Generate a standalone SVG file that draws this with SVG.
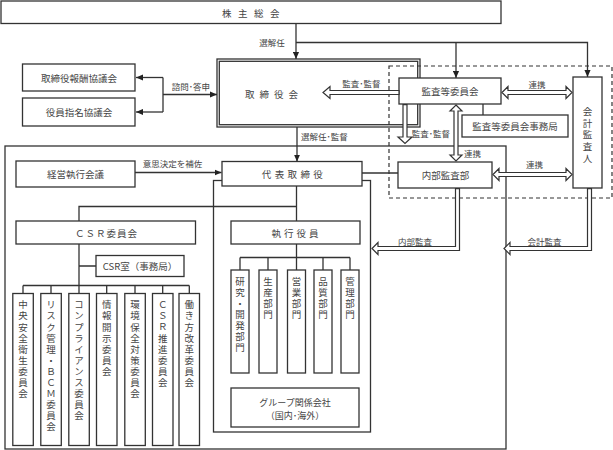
<svg xmlns="http://www.w3.org/2000/svg" width="613" height="450" viewBox="0 0 613 450">
<style>
.b{fill:#fff;stroke:#333;stroke-width:1.3}
.f{fill:none;stroke:#333;stroke-width:1.3}
.l{fill:none;stroke:#333;stroke-width:1.3}
.h{fill:#fff;stroke:#333;stroke-width:1.2;stroke-linejoin:miter}
text{font-family:"Noto Sans CJK JP","Noto Sans",sans-serif;fill:#444;text-anchor:middle;dominant-baseline:central}
.t{font-size:9.5px}
.s{font-size:8.5px}
.v{font-size:9.5px;writing-mode:vertical-rl;text-orientation:upright;text-anchor:start;letter-spacing:1.6px}
</style>
<defs>
<marker id="ah" viewBox="0 0 8 8" refX="8" refY="4" markerWidth="7" markerHeight="7" markerUnits="userSpaceOnUse" orient="auto"><path d="M0,0.5 L8,4 L0,7.5 Z" fill="#222"/></marker>
</defs>

<g id="frames">
<rect class="f" x="5" y="146" width="501" height="303"/>
<rect class="f" x="213.5" y="180.5" width="157" height="251.5"/>
</g>

<g id="n-torishimariyakukai">
<rect class="b" x="217" y="59" width="203" height="68"/>
<rect class="f" x="219.3" y="61.3" width="198.4" height="63.4"/>
<text class="t" x="274" y="94" style="letter-spacing:5px">取締役会</text>
</g>

<rect x="389" y="66" width="223" height="132" fill="none" stroke="#333" stroke-width="1.2" stroke-dasharray="4 3"/>

<g id="connectors">
<path class="l" d="M296,23 V59" marker-end="url(#ah)"/>
<path class="l" d="M296,42.5 H587.5 V77" marker-end="url(#ah)"/>
<path class="l" d="M456,42.5 V78" marker-end="url(#ah)"/>
<path class="l" d="M163,94.5 H217" marker-end="url(#ah)"/>
<path class="l" d="M163,77.5 V112"/>
<path class="l" d="M163,77.5 H136" marker-end="url(#ah)"/>
<path class="l" d="M163,112 H136" marker-end="url(#ah)"/>
<path class="l" d="M297,127 V161.5" marker-end="url(#ah)"/>
<path class="l" d="M135,172.5 H221.5" marker-end="url(#ah)"/>
<path class="l" d="M362,173 H398"/>
<path class="l" d="M296.5,186 V221 M296.5,206.5 H79 V221 M296.5,244 V257.5 M240,257.5 H350 M240,257.5 V270 M268,257.5 V270 M296.5,257.5 V270 M323,257.5 V270 M350,257.5 V270"/>
<path class="l" d="M79,244 V285.5 M79,266 H96 M23,285.5 H189.3 M23,285.5 V293.5 M51,285.5 V293.5 M79,285.5 V293.5 M106.7,285.5 V293.5 M135,285.5 V293.5 M162.7,285.5 V293.5 M189.3,285.5 V293.5"/>
<path class="l" d="M483,104 V115"/>
<text class="s" x="272" y="42">選解任</text>
<text class="s" x="191" y="86">諮問･答申</text>
<text class="s" x="361.5" y="83">監査･監督</text>
<text class="s" x="537" y="84">連携</text>
<text class="s" x="431" y="133">監査･監督</text>
<text class="s" x="472.5" y="153">連携</text>
<text class="s" x="534.5" y="164">連携</text>
<text class="s" x="324.5" y="136">選解任･監督</text>
<text class="s" x="172.5" y="163">意思決定を補佐</text>
<text class="s" x="415" y="240.5">内部監査</text>
<text class="s" x="544.5" y="240.5">会計監査</text>
</g>

<g id="n-kabunushi">
<rect class="b" x="1" y="1" width="500" height="22.5"/>
<text class="t" x="254" y="13" style="letter-spacing:6.5px">株主総会</text>
</g>
<g id="n-housyu">
<rect class="b" x="22.5" y="64" width="112.5" height="27"/>
<text class="t" x="79" y="77.5">取締役報酬協議会</text>
</g>
<g id="n-shimei">
<rect class="b" x="22.5" y="98" width="112.5" height="28"/>
<text class="t" x="79" y="112">役員指名協議会</text>
</g>
<g id="n-kansatou">
<rect class="b" x="399" y="78" width="102" height="26"/>
<text class="t" x="450" y="91">監査等委員会</text>
</g>
<g id="n-jimukyoku">
<rect class="b" x="462" y="115" width="106" height="22"/>
<text class="t" x="515" y="126">監査等委員会事務局</text>
</g>
<g id="n-naibu">
<rect class="b" x="398" y="162" width="94" height="26"/>
<text class="t" x="445.5" y="175">内部監査部</text>
</g>
<g id="n-kaikei">
<rect class="b" x="573" y="77" width="29" height="111"/>
<text class="v" x="587.5" y="106.5" style="letter-spacing:2.2px">会計監査人</text>
</g>
<g id="n-keiei">
<rect class="b" x="16" y="161" width="119" height="26"/>
<text class="t" x="75.5" y="174">経営執行会議</text>
</g>
<g id="n-daihyo">
<rect class="b" x="222" y="161.5" width="140" height="24.5"/>
<text class="t" x="294" y="174" style="letter-spacing:3.4px">代表取締役</text>
</g>
<g id="n-csr">
<rect class="b" x="16" y="221" width="179.5" height="23"/>
<text class="t" x="106.5" y="233" style="letter-spacing:1px">ＣＳＲ委員会</text>
</g>
<g id="n-csrshitsu">
<rect class="b" x="96" y="255.5" width="88" height="21"/>
<text class="t" x="140" y="266">CSR室（事務局）</text>
</g>
<g id="n-shikko">
<rect class="b" x="231" y="221" width="129" height="23"/>
<text class="t" x="296.5" y="233" style="letter-spacing:3px">執行役員</text>
</g>

<g id="n-c1"><rect class="b" x="12.8" y="293.5" width="20.5" height="152"/><text class="v" x="23" y="300">中央安全衛生委員会</text></g>
<g id="n-c2"><rect class="b" x="40.8" y="293.5" width="20.5" height="152"/><text class="v" x="51" y="300">リスク管理・ＢＣＭ委員会</text></g>
<g id="n-c3"><rect class="b" x="68.8" y="293.5" width="20.5" height="152"/><text class="v" x="79" y="300">コンプライアンス委員会</text></g>
<g id="n-c4"><rect class="b" x="96.5" y="293.5" width="20.5" height="152"/><text class="v" x="106.7" y="300">情報開示委員会</text></g>
<g id="n-c5"><rect class="b" x="124.8" y="293.5" width="20.5" height="152"/><text class="v" x="135" y="300">環境保全対策委員会</text></g>
<g id="n-c6"><rect class="b" x="152.5" y="293.5" width="20.5" height="152"/><text class="v" x="162.7" y="300">ＣＳＲ推進委員会</text></g>
<g id="n-c7"><rect class="b" x="179" y="293.5" width="20.5" height="152"/><text class="v" x="189.3" y="300">働き方改革委員会</text></g>

<g id="n-d1"><rect class="b" x="231" y="270" width="18" height="103"/><text class="v" x="240" y="276.5">研究・開発部門</text></g>
<g id="n-d2"><rect class="b" x="259" y="270" width="18" height="103"/><text class="v" x="268" y="276.5">生産部門</text></g>
<g id="n-d3"><rect class="b" x="287.5" y="270" width="18" height="103"/><text class="v" x="296.5" y="276.5">営業部門</text></g>
<g id="n-d4"><rect class="b" x="314" y="270" width="18" height="103"/><text class="v" x="323" y="276.5">品質部門</text></g>
<g id="n-d5"><rect class="b" x="341" y="270" width="18" height="103"/><text class="v" x="350" y="276.5">管理部門</text></g>

<g id="n-group">
<rect class="b" x="231" y="388" width="128" height="39"/>
<text style="font-size:9px" x="295" y="402">グループ関係会社</text>
<text style="font-size:9px" x="295" y="415.5">（国内･海外）</text>
</g>

<g id="hollow-arrows">
<path class="h" d="M399,90.5 H330 V86.5 L323,92.5 L330,98.5 V94.5 H399 Z"/>
<path class="h" d="M403,104.7 V137 H398 L405,143.5 L412,137 H407 V104.7 Z"/>
<path class="h" d="M456,105 L462,111 H458 V155 H462 L456,161 L450,155 H454 V111 H450 Z"/>
<path class="h" d="M502,92.5 L508,86.5 V90.5 H566 V86.5 L572,92.5 L566,98.5 V94.5 H508 V98.5 Z"/>
<path class="h" d="M493,174.5 L499,168.5 V172.5 H566 V168.5 L572,174.5 L566,180.5 V176.5 H499 V180.5 Z"/>
<path class="h" d="M455.5,188.6 V246.5 H378 V242.5 L372,248.5 L378,254.5 V250.5 H459.5 V188.6 Z"/>
<path class="h" d="M587.5,188.6 V246.5 H510 V242.5 L504,248.5 L510,254.5 V250.5 H591.5 V188.6 Z"/>
</g>
</svg>
